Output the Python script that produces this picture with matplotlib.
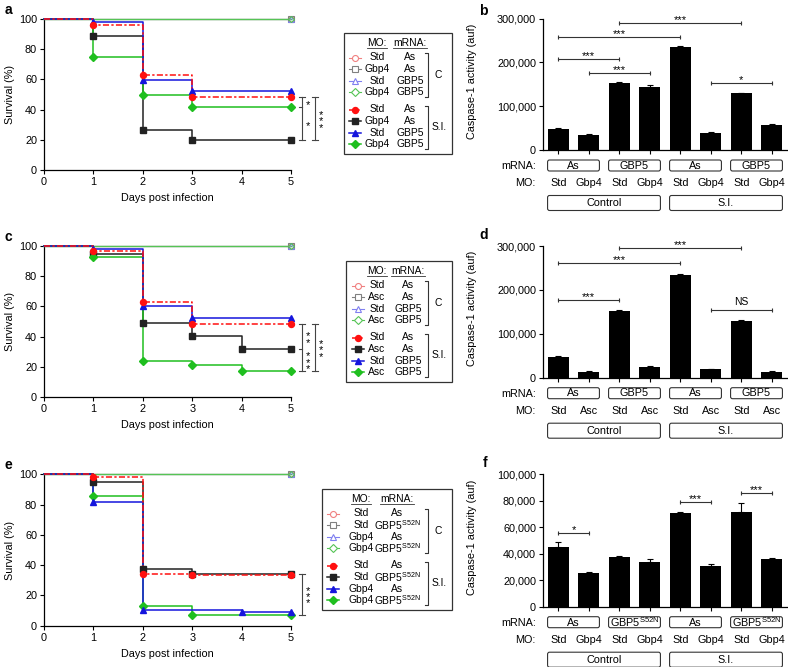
import numpy as np
import matplotlib
matplotlib.use('Agg')
import matplotlib.pyplot as plt
from matplotlib.patches import FancyBboxPatch, Rectangle
from matplotlib.ticker import StrMethodFormatter

plt.rcParams['font.family'] = ['Liberation Sans', 'DejaVu Sans']
plt.rcParams['mathtext.fontset'] = 'custom'
plt.rcParams['mathtext.rm'] = 'Liberation Sans'
plt.rcParams['axes.linewidth'] = 0.9

W, H = 788, 667

# ---- survival data (% alive per day) ----
days = [0, 1, 2, 3, 4, 5]
ctrl = [100, 100, 100, 100, 100, 100]

# order follows the legend S.I. rows
a_si = [[100, 96.3, 63.1, 48.1, 48.1, 48.1],
        [100, 88.6, 26.8, 20.0, 20.0, 20.0],
        [100, 97.8, 59.8, 52.1, 52.1, 52.1],
        [100, 74.7, 49.5, 41.5, 41.5, 41.5]]
c_si = [[100, 96.7, 63.0, 48.1, 48.1, 48.1],
        [100, 94.7, 48.8, 40.7, 31.6, 31.6],
        [100, 97.8, 60.2, 52.3, 52.3, 52.3],
        [100, 92.5, 23.7, 21.1, 17.6, 17.6]]
e_si = [[100, 98.2, 34.3, 33.4, 33.4, 33.4],
        [100, 94.7, 37.6, 34.3, 34.3, 34.3],
        [100, 82.0, 10.5, 10.5, 9.0, 9.0],
        [100, 85.5, 12.7, 7.3, 7.3, 7.3]]

a_mo = ['Std', 'Gbp4', 'Std', 'Gbp4'] * 2
a_mrna = ['As', 'As', 'GBP5', 'GBP5'] * 2
c_mo = ['Std', 'Asc', 'Std', 'Asc'] * 2
c_mrna = ['As', 'As', 'GBP5', 'GBP5'] * 2
e_mo = ['Std', 'Std', 'Gbp4', 'Gbp4'] * 2
e_mrna = ['As', 'GBP5$^{\\mathrm{S52N}}$', 'As', 'GBP5$^{\\mathrm{S52N}}$'] * 2

# ---- caspase-1 data ----
b_vals = [49000, 35000, 154000, 145000, 235000, 38000, 130000, 57500]
b_err = [1000, 2500, 1000, 3500, 2500, 2500, 1000, 2000]
d_vals = [48000, 14000, 153000, 25000, 235000, 20000, 130000, 14000]
d_err = [800, 500, 800, 800, 2000, 800, 800, 500]
f_vals = [44800, 25800, 37500, 34000, 70500, 31000, 71300, 36300]
f_err = [3800, 300, 600, 2000, 1000, 1000, 7000, 300]

b_sig = [(0, 2, 208000, '***'), (1, 3, 176000, '***'), (0, 4, 258000, '***'),
         (2, 6, 291000, '***'), (5, 7, 153000, '*')]
d_sig = [(0, 2, 177000, '***'), (0, 4, 262000, '***'), (2, 6, 295000, '***'),
         (5, 7, 154000, 'NS')]
f_sig = [(0, 1, 56000, '*'), (4, 5, 79000, '***'), (6, 7, 86000, '***')]

b_mo = ['Std', 'Gbp4'] * 4
d_mo = ['Std', 'Asc'] * 4
f_mo = ['Std', 'Gbp4'] * 4
bd_mrna = ['As', 'GBP5', 'As', 'GBP5']
f_mrna = ['As', 'GBP5$^{\\mathrm{S52N}}$', 'As', 'GBP5$^{\\mathrm{S52N}}$']
groups = ['Control', 'S.I.']

ctrl_colors = ['#f08080', '#808080', '#8080f0', '#55c455']
si_colors = ['#ff1010', '#222222', '#1515dd', '#1fbf1f']
markers = ['o', 's', '^', 'D']
msizes = [4.3, 4.3, 4.3, 3.6]
si_ls = [(0, (4, 1.5, 1.5, 1.5)), '-', '-', '-']

fig = plt.figure(figsize=(W / 100, H / 100), dpi=100)


def fax(x0, y0, x1, y1):
    return fig.add_axes([x0 / W, 1 - y1 / H, (x1 - x0) / W, (y1 - y0) / H])


ov = fig.add_axes([0, 0, 1, 1], zorder=10)
ov.set_xlim(0, W)
ov.set_ylim(H, 0)
ov.set_axis_off()


def to_px(ax, x, y):
    d = ax.transData.transform((x, y))
    return ov.transData.inverted().transform(d)


def stars(ax, x, y, lab):
    # vertical stack of asterisks in one text
    ax.annotate('\n'.join(lab), (x, y), xytext=(0, -2), textcoords='offset points',
                ha='center', va='center', fontsize=8, linespacing=0.55,
                annotation_clip=False)


def survival(ax, si, brackets):
    ax.set_xlim(0, 5)
    ax.set_ylim(0, 100)
    for k in range(4):
        ax.step(days, ctrl, where='post', color=ctrl_colors[k],
                lw=0.8 if k < 3 else 1.0, clip_on=False, snap=True,
                zorder=2 + 0.3 * k)
        ax.plot([days[-1]], [ctrl[-1]], ls='none', marker=markers[k], mfc='none',
                mec=ctrl_colors[k], ms=msizes[k] - 0.5, mew=0.8, clip_on=False, zorder=3.5)
    for k in [1, 3, 2, 0]:
        vals = np.array(si[k])
        ax.step(days, vals, where='post', color=si_colors[k], lw=1.1, ls=si_ls[k],
                clip_on=False, zorder=3)
        mask = np.r_[False, vals[1:] != vals[:-1]]
        mask[-1] = True
        ax.plot(np.array(days)[mask], vals[mask], ls='none', marker=markers[k],
                color=si_colors[k], ms=msizes[k], clip_on=False, zorder=4)
    for sp in ['top', 'right']:
        ax.spines[sp].set_visible(False)
    ax.set_xticks(range(6))
    ax.set_yticks(range(0, 101, 20))
    ax.tick_params(direction='out', length=3, width=0.8, labelsize=7.8, pad=2)
    # significance brackets
    for x, y0, y1, mid, top_lab, bot_lab in brackets:
        cw = 0.06
        kw = dict(color='#444444', lw=0.8, clip_on=False)
        ax.plot([x, x], [y0, y1], **kw)
        ax.plot([x - cw, x + cw], [y0, y0], **kw)
        ax.plot([x - cw, x + cw], [y1, y1], **kw)
        if mid is not None:
            ax.plot([x - cw, x], [mid, mid], **kw)
            stars(ax, x + 0.12, (y0 + mid) / 2, top_lab)
            stars(ax, x + 0.12, (y1 + mid) / 2, bot_lab)
        else:
            stars(ax, x + 0.12, (y0 + y1) / 2, top_lab)
    x0p, zp = to_px(ax, 0, 0)
    x1p, tp = to_px(ax, 5, 100)
    ov.text((x0p + x1p) / 2, zp + 28, 'Days post infection', ha='center', va='center',
            fontsize=7.8)
    ov.text(10, (zp + tp) / 2, 'Survival (%)', rotation=90, ha='center', va='center',
            fontsize=7.8)


def underline(t):
    r = fig.canvas.get_renderer()
    bb = t.get_window_extent(r)
    p0 = ov.transData.inverted().transform((bb.x0, bb.y0))
    p1 = ov.transData.inverted().transform((bb.x1, bb.y0))
    ov.plot([p0[0], p1[0]], [p0[1] - 0.5, p1[1] - 0.5], color='#333333', lw=0.6)


def legend(x0, x1, top, mo_x, mrna_x, mark_x, mo, mrna):
    ov.add_patch(Rectangle((x0, top), x1 - x0, 121, fill=False, lw=0.9, ec='#333333'))
    offs = [24.5, 36, 48, 59.2, 76.5, 88, 99.8, 111]
    fs = 7.4
    underline(ov.text(mo_x, top + 10, 'MO:', ha='center', va='center', fontsize=fs))
    underline(ov.text(mrna_x, top + 10, 'mRNA:', ha='center', va='center', fontsize=fs))
    for k in range(8):
        y = top + offs[k]
        if k < 4:
            c = ctrl_colors[k]
            ov.plot([mark_x - 6, mark_x + 6], [y, y], color=c, lw=0.8)
            ov.plot([mark_x], [y], marker=markers[k], mfc='white', mec=c,
                    ms=msizes[k], mew=0.8)
        else:
            j = k - 4
            c = si_colors[j]
            ov.plot([mark_x - 6, mark_x + 6], [y, y], color=c, lw=1.1, ls=si_ls[j])
            ov.plot([mark_x], [y], marker=markers[j], color=c, ms=msizes[j])
        ov.text(mo_x, y, mo[k], ha='center', va='center', fontsize=fs)
        ov.text(mrna_x, y, mrna[k], ha='center', va='center', fontsize=fs)
    bx = 428
    for ya, yb, lab, lx in [(top + 20, top + 64, 'C', bx + 7), (top + 73, top + 116, 'S.I.', bx + 4)]:
        ov.plot([bx - 3, bx, bx, bx - 3], [ya, ya, yb, yb], color='#333333', lw=0.8)
        ov.text(lx, (ya + yb) / 2, lab, ha='left', va='center', fontsize=fs)


def bars(ax, vals, errs, ymax, step, sig, mo, mrna):
    x = np.arange(len(vals))
    ax.bar(x, vals, width=0.7, color='black', yerr=[np.zeros(len(errs)), errs],
           capsize=2, error_kw=dict(lw=0.8, capthick=0.8, ecolor='black'))
    ax.set_xlim(-0.5, 7.5)
    ax.set_ylim(0, ymax)
    ax.set_yticks(np.arange(0, ymax + 1, step))
    ax.yaxis.set_major_formatter(StrMethodFormatter('{x:,.0f}'))
    ax.set_xticks(x)
    ax.set_xticklabels([])
    for sp in ['top', 'right']:
        ax.spines[sp].set_visible(False)
    ax.tick_params(direction='out', length=3, width=0.8, labelsize=7.8, pad=2)
    for i, j, y, lab in sig:
        ax.plot([i, j], [y, y], color='#333333', lw=0.8, marker='|', ms=3, mew=0.8,
                clip_on=False)
        if lab == 'NS':
            ax.annotate(lab, ((i + j) / 2, y), xytext=(0, 2.5), textcoords='offset points',
                        ha='center', va='bottom', fontsize=7.4, annotation_clip=False)
        else:
            ax.annotate(lab, ((i + j) / 2, y), xytext=(0, -1.5), textcoords='offset points',
                        ha='center', va='bottom', fontsize=8, annotation_clip=False)
    # rows under the axis
    lx, zp = to_px(ax, -0.5, 0)
    _, tp = to_px(ax, 0, ymax)
    ov.text(lx - 7, zp + 16, 'mRNA:', ha='right', va='center', fontsize=7.8)
    ov.text(lx - 7, zp + 33, 'MO:', ha='right', va='center', fontsize=7.8)
    for k in range(4):
        xa = to_px(ax, 2 * k - 0.35, 0)[0]
        xb = to_px(ax, 2 * k + 1.35, 0)[0]
        ov.add_patch(FancyBboxPatch((xa, zp + 10), xb - xa, 11,
                                    boxstyle='round,pad=0,rounding_size=2',
                                    fc='white', ec='#333333', lw=0.8))
        ov.text((xa + xb) / 2, zp + 15.8, mrna[k], ha='center', va='center', fontsize=7.8)
    for k in range(len(mo)):
        ov.text(to_px(ax, k, 0)[0], zp + 33, mo[k], ha='center', va='center', fontsize=7.8)
    for g in range(2):
        xa = to_px(ax, 4 * g - 0.35, 0)[0]
        xb = to_px(ax, 4 * g + 3.35, 0)[0]
        ov.add_patch(FancyBboxPatch((xa, zp + 45.5), xb - xa, 15,
                                    boxstyle='round,pad=0,rounding_size=2',
                                    fc='white', ec='#333333', lw=0.8))
        ov.text((xa + xb) / 2, zp + 53, groups[g], ha='center', va='center', fontsize=7.8)
    ov.text(lx - 71, (zp + tp) / 2 - 3, 'Caspase-1 activity (auf)', rotation=90,
            ha='center', va='center', fontsize=7.8)


# panel a / c / e
ax_a = fax(44, 19.0, 291, 170)
survival(ax_a, a_si, [(5.22, 48.1, 20.0, 41.5, '*', '*'), (5.49, 48.1, 20.0, None, '***', '')])
ax_c = fax(44, 245.7, 291, 397.3)
survival(ax_c, c_si, [(5.22, 48.1, 17.6, 31.6, '**', '***'), (5.49, 48.1, 17.6, None, '***', '')])
ax_e = fax(44, 474.3, 291, 625.7)
survival(ax_e, e_si, [(5.22, 34.3, 7.3, None, '***', '')])

legend(344, 452, 33, 377, 410, 355, a_mo, a_mrna)
legend(346, 452, 261, 377, 408, 358, c_mo, c_mrna)
legend(322, 452, 489, 361, 397, 333, e_mo, e_mrna)

# panel b / d / f
ax_b = fax(543, 18.7, 787, 150)
bars(ax_b, b_vals, b_err, 300000, 100000, b_sig, b_mo, bd_mrna)
ax_d = fax(543, 246, 787, 377.7)
bars(ax_d, d_vals, d_err, 300000, 100000, d_sig, d_mo, bd_mrna)
ax_f = fax(543, 474.3, 787, 606.7)
bars(ax_f, f_vals, f_err, 100000, 20000, f_sig, f_mo, f_mrna)

for lab, x, y in [('a', 5, 10), ('b', 479, 11), ('c', 5, 237), ('d', 479, 235),
                  ('e', 5, 465), ('f', 483, 463)]:
    ov.text(x, y, lab, ha='left', va='center', fontsize=10, fontweight='bold')

fig.savefig('out.png', dpi=100)
